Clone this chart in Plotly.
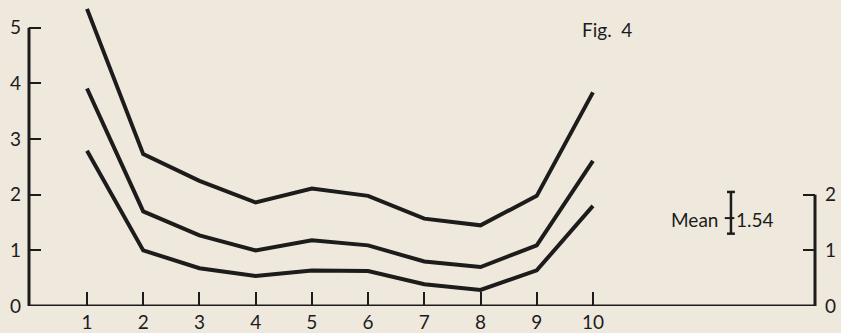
import plotly.graph_objects as go

x_vals = [1, 2, 3, 4, 5, 6, 7, 8, 9, 10]
upper = [5.34, 2.73, 2.25, 1.86, 2.11, 1.98, 1.57, 1.45, 1.98, 3.84]
middle = [3.91, 1.70, 1.27, 1.00, 1.18, 1.09, 0.80, 0.70, 1.09, 2.61]
lower = [2.79, 1.00, 0.68, 0.54, 0.64, 0.63, 0.39, 0.29, 0.64, 1.80]
left_ticks = [0, 1, 2, 3, 4, 5]
left_labels = ["0", "1", "2", "3", "4", "5"]
right_ticks = [0, 1, 2]
right_labels = ["0", "1", "2"]
x_labels = [str(v) for v in x_vals]
mean_value = "1.54"

ink = "#1c1c1c"
bg = "#efe9dd"
font_family = "Lato, 'Noto Sans', sans-serif"
fs = 19

fig = go.Figure()
for series in (upper, middle, lower):
    fig.add_trace(go.Scatter(x=x_vals, y=series, mode="lines",
                             line=dict(color=ink, width=4),
                             cliponaxis=False, showlegend=False, hoverinfo="skip"))

# invisible trace to activate right axis
fig.add_trace(go.Scatter(x=[None], y=[None], yaxis="y2", showlegend=False))

fig.update_layout(
    width=841, height=333,
    margin=dict(l=29, r=26, t=0, b=25),
    paper_bgcolor=bg, plot_bgcolor=bg,
    font=dict(family=font_family, color=ink, size=fs),
    xaxis=dict(range=[-0.032, 13.95], tickvals=x_vals, ticktext=x_labels,
               ticks="inside", ticklen=14, tickwidth=2, tickcolor=ink,
               showline=False, showgrid=False, zeroline=False,
               ticklabelstandoff=3, tickfont=dict(size=fs)),
    yaxis=dict(range=[0, 5.5], tickvals=left_ticks, ticktext=left_labels,
               ticks="inside", ticklen=12, tickwidth=2, tickcolor=ink,
               showline=False, showgrid=False, zeroline=False,
               ticklabelstandoff=7, tickfont=dict(size=fs)),
    yaxis2=dict(range=[0, 5.5], tickvals=right_ticks, ticktext=right_labels,
                overlaying="y", side="right", anchor="x",
                ticks="inside", ticklen=12, tickwidth=2, tickcolor=ink,
                showline=False, showgrid=False, zeroline=False,
                ticklabelstandoff=9, tickfont=dict(size=fs)),
)

# axis lines
fig.add_shape(type="line", xref="paper", yref="y", x0=0, x1=1, y0=0, y1=0,
              line=dict(color=ink, width=3))
fig.add_shape(type="line", xref="paper", yref="y", x0=0, x1=0, y0=0, y1=left_ticks[-1],
              line=dict(color=ink, width=3))
fig.add_shape(type="line", xref="paper", yref="y", x0=1, x1=1, y0=0, y1=right_ticks[-1],
              line=dict(color=ink, width=3))

# Mean indicator (I-bar with crossbar)
xi = 12.455
y_top, y_bot, y_cross = 2.05, 1.30, 1.58
fig.add_shape(type="line", xref="x", yref="y", x0=xi, x1=xi, y0=y_bot, y1=y_top,
              line=dict(color=ink, width=2.5))
for yy in (y_top, y_bot):
    fig.add_shape(type="line", xref="x", yref="y", x0=xi - 0.07, x1=xi + 0.07, y0=yy, y1=yy,
                  line=dict(color=ink, width=2.5))
fig.add_shape(type="line", xref="x", yref="y", x0=xi - 0.11, x1=xi + 0.06, y0=y_cross, y1=y_cross,
              line=dict(color=ink, width=2))

fig.add_annotation(x=xi - 0.2, y=1.56, xref="x", yref="y", text="Mean",
                   showarrow=False, xanchor="right", yanchor="middle",
                   font=dict(size=fs, color=ink))
fig.add_annotation(x=xi + 0.05, y=1.56, xref="x", yref="y", text=mean_value,
                   showarrow=False, xanchor="left", yanchor="middle",
                   font=dict(size=fs, color=ink))
fig.add_annotation(x=10.25, y=4.97, xref="x", yref="y", text="Fig.&nbsp;&nbsp;4",
                   showarrow=False, xanchor="center", yanchor="middle",
                   font=dict(size=fs, color=ink))

fig.write_html("out.html")
